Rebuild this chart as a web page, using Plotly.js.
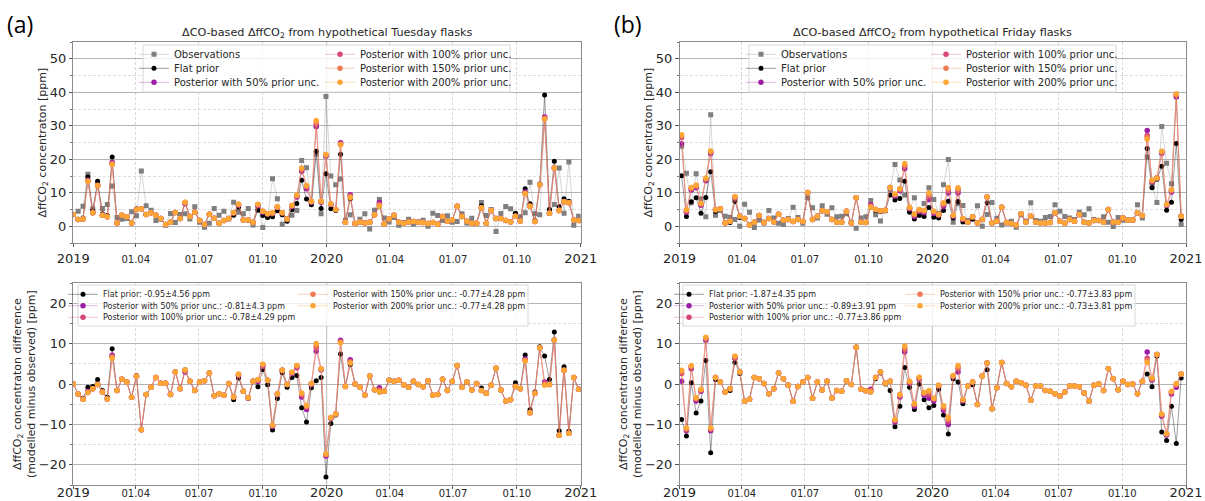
<!DOCTYPE html>
<html><head><meta charset="utf-8">
<script src="https://cdn.plot.ly/plotly-3.0.1.min.js"></script>
<style>html,body{margin:0;padding:0;background:#fff}#chart{width:1205px;height:501px}</style>
</head><body><div id="chart"></div>
<script>
// ---------- DATA ----------
const tueStart = '2019-01-01';   // weekly Tuesday flasks
const friStart = '2019-01-04';   // weekly Friday flasks

// Tuesday, top panel (ppm)
const T_obs = [3.5,4.5,6.0,15.5,5.2,12.3,5.3,6.5,12.0,2.6, 2.1,2.3,4.3,3.1,16.5,6.1,4.8,1.7,2.1,0.3, 3.8,1.1,3.5,3.7,2.2,5.8,1.2,-0.3,0.9,5.3, 3.3,4.5,2.2,7.2,4.2,3.7,5.3,0.4,5.5,-0.4, 2.8,14.2,8.2,0.6,2.3,3.3,4.7,19.6,17.5,7.3, 21.6,3.7,38.7,15.0,12.4,14.1,1.8,3.4,0.8,2.1, 3.7,-0.8,4.8,8.0,2.5,1.3,2.6,0.3,1.1,2.1, 0.7,1.3,1.8,0.0,3.9,3.2,1.7,3.1,1.2,1.4, 3.7,1.0,2.4,0.8,7.1,3.2,5.0,-1.6,3.8,5.9, 5.2,3.6,2.8,4.0,13.1,3.7,3.4,32.3,4.0,6.5, 17.4,3.9,19.2,0.3,3.0];
const T_flat = [3.5,2.0,2.5,14.7,4.6,13.4,3.7,3.2,20.7,1.0, 3.3,2.8,1.0,5.2,5.2,3.5,4.0,3.3,2.3,0.5, 1.2,4.1,2.3,7.2,2.9,4.2,1.7,0.5,3.6,2.4, 0.9,1.7,2.3,3.3,5.7,1.9,1.7,1.1,4.8,3.2, 2.6,2.8,4.6,3.4,1.5,4.9,6.8,13.7,8.1,6.4, 22.4,5.3,15.7,5.2,4.7,21.5,1.2,8.2,0.8,1.3, 1.0,1.2,3.4,6.0,0.7,2.2,3.3,1.2,0.9,1.3, 1.4,1.2,1.1,0.8,1.1,0.6,2.9,1.5,1.9,6.0, 2.9,1.5,0.9,0.9,6.1,0.9,4.7,2.3,2.3,1.7, 1.3,3.9,1.6,11.2,6.7,1.7,12.6,39.2,5.1,19.4, 5.8,8.2,7.5,1.9,1.7];
const T_p50 = [3.5,2.0,2.2,13.7,4.0,12.2,3.3,2.8,19.1,1.0, 3.3,2.8,1.0,5.0,5.2,3.5,4.0,3.3,2.3,0.5, 1.2,4.1,2.3,6.7,2.9,4.2,1.7,0.5,3.6,2.4, 0.9,1.7,2.3,4.0,6.3,1.9,1.9,1.1,6.1,4.2, 3.7,3.7,5.6,4.0,2.2,5.9,8.7,16.4,11.2,7.2, 29.7,7.2,20.9,6.5,5.0,24.9,1.2,9.4,0.8,1.3, 1.0,1.2,3.4,7.1,0.7,2.2,3.3,1.2,0.9,1.3, 1.4,1.2,1.1,0.8,1.1,0.6,2.9,1.5,1.9,6.0, 2.9,1.5,0.9,0.9,5.5,0.9,4.7,2.3,2.3,1.7, 1.3,3.0,1.6,10.2,6.0,1.4,12.4,32.6,3.9,17.4, 4.7,7.3,7.0,1.9,1.7];
const T_p100 = [3.5,2.0,2.2,13.5,4.0,12.2,3.3,2.8,18.8,1.0, 3.3,2.8,1.0,5.0,5.2,3.5,4.0,3.3,2.3,0.5, 1.2,4.1,2.3,7.0,2.9,4.2,1.7,0.5,3.6,2.4, 0.9,1.7,2.3,4.0,6.5,1.9,1.9,1.1,6.4,4.4, 3.7,3.9,5.7,4.0,2.2,6.1,9.0,16.9,11.7,7.3, 30.5,7.4,21.2,6.6,5.0,24.6,1.2,9.0,0.8,1.3, 1.0,1.2,3.4,6.6,0.7,2.2,3.3,1.2,0.9,1.3, 1.4,1.2,1.1,0.8,1.1,0.6,2.9,1.5,1.9,6.0, 2.9,1.5,0.9,0.9,5.5,0.9,4.7,2.3,2.3,1.7, 1.3,3.0,1.6,9.9,6.0,1.4,12.4,32.3,3.9,17.4, 4.7,7.3,7.0,1.9,1.7];
const T_p150 = [3.5,2.0,2.2,13.4,4.0,12.2,3.3,2.8,18.6,1.0, 3.3,2.8,1.0,5.0,5.2,3.5,4.0,3.3,2.3,0.5, 1.2,4.1,2.3,7.1,2.9,4.2,1.7,0.5,3.6,2.4, 0.9,1.7,2.3,4.0,6.6,1.9,1.9,1.1,6.5,4.5, 3.7,4.0,5.8,4.0,2.2,6.2,9.2,17.2,12.0,7.4, 31.1,7.5,21.3,6.7,5.0,24.4,1.2,8.8,0.8,1.3, 1.0,1.2,3.4,6.3,0.7,2.2,3.3,1.2,0.9,1.3, 1.4,1.2,1.1,0.8,1.1,0.6,2.9,1.5,1.9,6.0, 2.9,1.5,0.9,0.9,5.5,0.9,4.7,2.3,2.3,1.7, 1.3,3.0,1.6,9.8,6.0,1.4,12.4,32.1,3.9,17.4, 4.7,7.3,7.0,1.9,1.7];
const T_p200 = [3.5,2.0,2.2,13.4,4.0,12.2,3.3,2.8,18.4,1.0, 3.3,2.8,1.0,5.0,5.2,3.5,4.0,3.3,2.3,0.5, 1.2,4.1,2.3,7.2,2.9,4.2,1.7,0.5,3.6,2.4, 0.9,1.7,2.3,4.0,6.6,1.9,1.9,1.1,6.6,4.5, 3.7,4.0,5.8,4.0,2.2,6.2,9.3,17.4,12.2,7.4, 31.6,7.5,21.4,6.7,5.0,24.3,1.2,8.6,0.8,1.3, 1.0,1.2,3.4,6.0,0.7,2.2,3.3,1.2,0.9,1.3, 1.4,1.2,1.1,0.8,1.1,0.6,2.9,1.5,1.9,6.0, 2.9,1.5,0.9,0.9,5.5,0.9,4.7,2.3,2.3,1.7, 1.3,3.0,1.6,9.7,6.0,1.4,12.4,32.0,3.9,17.4, 4.7,7.3,7.0,1.9,1.7];

// Tuesday, bottom panel (modelled minus observed, ppm)
const T_dflat = [0,-2.5,-3.5,-0.8,-0.6,1.1,-1.6,-3.3,8.7,-1.6, 1.2,0.5,-3.3,2.1,-11.3,-2.6,-0.8,1.6,0.2,0.2, -2.6,3.0,-1.2,3.5,0.7,-1.6,0.5,0.8,2.7,-2.9, -2.4,-2.8,0.1,-3.9,1.5,-1.8,-3.6,0.7,-0.7,3.6, -0.2,-11.4,-3.6,2.8,-0.8,1.6,2.1,-5.9,-9.4,-0.9, 0.8,1.6,-23.0,-9.8,-7.7,7.4,-0.6,4.8,0.0,-0.8, -2.7,2.0,-1.4,-2.0,-1.8,0.9,0.7,0.9,-0.2,-0.8, 0.7,-0.1,-0.7,0.8,-2.8,-2.6,1.2,-1.6,0.7,4.6, -0.8,0.5,-1.5,0.1,-1.0,-2.3,-0.3,3.9,-1.5,-4.2, -3.9,0.3,-1.2,7.2,-6.4,-2.0,9.2,6.9,1.1,12.9, -11.6,4.3,-11.7,1.6,-1.3];
const T_dp50 = [0,-2.5,-3.8,-1.8,-1.2,-0.1,-2.0,-3.7,7.1,-1.6, 1.2,0.5,-3.3,1.9,-11.3,-2.6,-0.8,1.6,0.2,0.2, -2.6,3.0,-1.2,3.0,0.7,-1.6,0.5,0.8,2.7,-2.9, -2.4,-2.8,0.1,-3.2,2.1,-1.8,-3.4,0.7,0.6,4.4, 0.9,-10.5,-2.6,3.4,-0.1,2.6,4.0,-3.2,-6.3,-0.1, 8.1,3.5,-17.8,-8.5,-7.4,10.8,-0.6,6.0,0.0,-0.8, -2.7,2.0,-1.4,-0.9,-1.8,0.9,0.7,0.9,-0.2,-0.8, 0.7,-0.1,-0.7,0.8,-2.8,-2.6,1.2,-1.6,0.7,4.6, -0.8,0.5,-1.5,0.1,-1.6,-2.3,-0.3,3.9,-1.5,-4.2, -3.9,-0.6,-1.2,6.2,-7.1,-2.3,9.0,0.5,-0.1,10.9, -12.7,3.4,-12.2,1.6,-1.3];
const T_dp100 = [0,-2.5,-3.8,-2.0,-1.2,-0.1,-2.0,-3.7,6.8,-1.6, 1.2,0.5,-3.3,1.9,-11.3,-2.6,-0.8,1.6,0.2,0.2, -2.6,3.0,-1.2,3.3,0.7,-1.6,0.5,0.8,2.7,-2.9, -2.4,-2.8,0.1,-3.2,2.3,-1.8,-3.4,0.7,0.9,4.7, 0.9,-10.3,-2.5,3.4,-0.1,2.8,4.3,-2.7,-5.8,0.0, 9.0,3.7,-17.5,-8.4,-7.4,10.5,-0.6,5.6,0.0,-0.8, -2.7,2.0,-1.4,-1.4,-1.8,0.9,0.7,0.9,-0.2,-0.8, 0.7,-0.1,-0.7,0.8,-2.8,-2.6,1.2,-1.6,0.7,4.6, -0.8,0.5,-1.5,0.1,-1.6,-2.3,-0.3,3.9,-1.5,-4.2, -3.9,-0.6,-1.2,5.9,-7.1,-2.3,9.0,0.1,-0.1,10.9, -12.7,3.4,-12.2,1.6,-1.3];
const T_dp150 = [0,-2.5,-3.8,-2.1,-1.2,-0.1,-2.0,-3.7,6.6,-1.6, 1.2,0.5,-3.3,1.9,-11.3,-2.6,-0.8,1.6,0.2,0.2, -2.6,3.0,-1.2,3.4,0.7,-1.6,0.5,0.8,2.7,-2.9, -2.4,-2.8,0.1,-3.2,2.4,-1.8,-3.4,0.7,1.0,4.8, 0.9,-10.2,-2.4,3.4,-0.1,2.9,4.5,-2.4,-5.5,0.1, 9.6,3.8,-17.4,-8.3,-7.4,10.3,-0.6,5.4,0.0,-0.8, -2.7,2.0,-1.4,-1.7,-1.8,0.9,0.7,0.9,-0.2,-0.8, 0.7,-0.1,-0.7,0.8,-2.8,-2.6,1.2,-1.6,0.7,4.6, -0.8,0.5,-1.5,0.1,-1.6,-2.3,-0.3,3.9,-1.5,-4.2, -3.9,-0.6,-1.2,5.8,-7.1,-2.3,9.0,-0.1,-0.1,10.9, -12.7,3.4,-12.2,1.6,-1.3];
const T_dp200 = [0,-2.5,-3.8,-2.1,-1.2,-0.1,-2.0,-3.7,6.4,-1.6, 1.2,0.5,-3.3,1.9,-11.3,-2.6,-0.8,1.6,0.2,0.2, -2.6,3.0,-1.2,3.5,0.7,-1.6,0.5,0.8,2.7,-2.9, -2.4,-2.8,0.1,-3.2,2.4,-1.8,-3.4,0.7,1.1,4.9, 0.9,-10.2,-2.4,3.4,-0.1,2.9,4.6,-2.2,-5.3,0.1, 10.0,3.8,-17.3,-8.3,-7.4,10.2,-0.6,5.2,0.0,-0.8, -2.7,2.0,-1.4,-2.0,-1.8,0.9,0.7,0.9,-0.2,-0.8, 0.7,-0.1,-0.7,0.8,-2.8,-2.6,1.2,-1.6,0.7,4.6, -0.8,0.5,-1.5,0.1,-1.6,-2.3,-0.3,3.9,-1.5,-4.2, -3.9,-0.6,-1.2,5.7,-7.1,-2.3,9.0,-0.3,-0.1,10.9, -12.7,3.4,-12.2,1.6,-1.3];

// Friday, top panel (ppm)
const F_obs = [23.9,15.8,7.0,15.7,8.1,2.8,33.3,3.3,4.7,3.0, 2.7,2.0,0.0,6.6,4.2,-0.4,1.9,1.0,4.7,2.5, 0.9,0.5,2.3,5.7,2.6,0.9,8.5,5.5,2.5,6.1, 3.6,5.5,2.8,3.0,3.7,1.1,-0.6,2.5,2.8,7.7, 3.4,1.6,4.6,10.9,18.4,13.8,9.3,5.0,8.5,3.3, 6.8,11.5,8.0,3.8,12.4,19.9,1.2,6.9,6.2,1.7, 2.3,6.1,0.0,3.5,7.1,2.4,0.4,1.0,1.5,-0.3, 3.4,1.5,7.0,1.7,1.5,2.6,2.9,6.4,4.5,2.9, 2.5,2.0,4.2,3.4,5.2,2.0,1.7,2.8,1.2,-0.1, 2.6,1.8,1.9,1.9,6.4,2.5,20.7,12.2,7.1,29.8, 18.8,12.7,39.4,0.5];
const F_flat = [15.1,2.9,7.3,8.5,3.9,8.6,16.3,4.4,5.2,1.0, 1.1,7.4,2.6,2.3,0.4,1.2,3.2,1.1,2.3,1.3, 3.6,1.8,2.0,1.4,2.0,1.4,10.1,2.0,3.0,4.6, 4.3,2.0,1.2,1.2,4.5,1.0,8.5,1.2,1.1,5.7, 4.7,4.3,4.6,9.3,7.8,8.3,13.4,4.2,2.2,3.3, 2.9,5.6,2.7,2.5,4.7,7.5,2.5,7.4,1.3,1.2, 2.1,1.0,2.0,7.0,1.0,1.5,5.7,1.1,0.8,0.4, 3.7,1.2,3.0,1.2,1.0,1.0,1.1,4.0,1.5,0.9, 2.0,1.5,3.5,1.2,1.0,1.7,1.7,1.2,5.0,1.2, 1.2,2.5,1.8,1.9,4.0,3.2,23.2,11.5,14.0,17.9, 4.8,7.2,24.7,2.0];
const F_p50 = [24.6,4.2,10.8,11.5,6.3,13.6,21.7,4.9,5.2,1.0, 1.5,8.4,3.0,2.3,0.4,1.2,3.2,1.1,2.3,1.3, 3.6,1.8,2.0,1.4,2.0,1.4,10.1,2.0,3.0,4.6, 4.3,2.0,1.2,1.2,4.5,1.0,8.5,1.2,1.1,6.4, 5.0,4.6,4.8,11.6,9.0,10.6,17.2,5.2,2.9,4.4, 4.0,8.0,3.8,3.3,5.9,9.9,3.0,9.9,2.0,1.2, 2.8,1.0,2.0,8.7,1.0,1.5,5.7,1.1,0.8,0.4, 3.7,1.2,3.0,1.2,1.0,1.0,1.1,4.0,1.5,0.9, 2.0,1.5,3.5,1.2,1.0,1.7,1.7,1.2,5.0,1.2, 1.2,2.5,1.8,1.9,4.0,3.2,28.6,13.2,14.4,21.8, 6.2,10.2,38.6,3.0];
const F_p100 = [26.5,4.5,11.2,11.9,6.6,14.0,22.1,4.9,5.2,1.0, 1.5,8.6,3.0,2.3,0.4,1.2,3.2,1.1,2.3,1.3, 3.6,1.8,2.0,1.4,2.0,1.4,10.1,2.0,3.0,4.6, 4.3,2.0,1.2,1.2,4.5,1.0,8.5,1.2,1.1,6.1, 5.0,4.6,4.8,11.6,9.3,10.9,17.9,5.4,3.3,4.7, 4.4,8.9,4.2,3.4,6.4,10.7,3.1,10.7,2.2,1.2, 2.8,1.0,2.0,8.7,1.0,1.5,5.7,1.1,0.8,0.4, 3.7,1.2,3.0,1.2,1.0,1.0,1.1,4.0,1.5,0.9, 2.0,1.5,3.5,1.2,1.0,1.7,1.7,1.2,5.0,1.2, 1.2,2.5,1.8,1.9,4.0,3.2,27.1,13.4,14.4,22.1, 6.4,10.6,39.1,3.0];
const F_p150 = [27.0,4.7,11.4,12.1,6.7,14.2,22.3,4.9,5.2,1.0, 1.5,8.8,3.0,2.3,0.4,1.2,3.2,1.1,2.3,1.3, 3.6,1.8,2.0,1.4,2.0,1.4,10.1,2.0,3.0,4.6, 4.3,2.0,1.2,1.2,4.5,1.0,8.5,1.2,1.1,5.9, 5.0,4.6,4.8,11.6,9.5,11.1,18.3,5.6,3.5,4.9, 4.6,9.5,4.4,3.5,6.7,11.2,3.2,11.1,2.3,1.2, 2.8,1.0,2.0,8.7,1.0,1.5,5.7,1.1,0.8,0.4, 3.7,1.2,3.0,1.2,1.0,1.0,1.1,4.0,1.5,0.9, 2.0,1.5,3.5,1.2,1.0,1.7,1.7,1.2,5.0,1.2, 1.2,2.5,1.8,1.9,4.0,3.2,26.5,13.6,14.4,22.3, 6.5,10.8,39.3,3.0];
const F_p200 = [27.3,4.9,11.6,12.3,6.8,14.4,22.5,4.9,5.2,1.0, 1.5,8.9,3.0,2.3,0.4,1.2,3.2,1.1,2.3,1.3, 3.6,1.8,2.0,1.4,2.0,1.4,10.1,2.0,3.0,4.6, 4.3,2.0,1.2,1.2,4.5,1.0,8.5,1.2,1.1,5.7, 5.0,4.6,4.8,11.6,9.6,11.2,18.7,5.7,3.7,5.0, 4.7,9.9,4.5,3.5,7.0,11.6,3.3,11.5,2.3,1.2, 2.8,1.0,2.0,8.7,1.0,1.5,5.7,1.1,0.8,0.4, 3.7,1.2,3.0,1.2,1.0,1.0,1.1,4.0,1.5,0.9, 2.0,1.5,3.5,1.2,1.0,1.7,1.7,1.2,5.0,1.2, 1.2,2.5,1.8,1.9,4.0,3.2,26.0,13.7,14.4,22.4, 6.5,10.9,39.5,3.0];

// Friday, bottom panel (modelled minus observed, ppm)
const F_dflat = [-8.8,-12.9,0.3,-7.2,-4.2,5.8,-17.0,1.1,0.5,-2.0, -1.6,5.4,2.6,-4.3,-3.8,1.6,1.3,0.1,-2.4,-1.2, 2.7,1.3,-0.3,-4.3,-0.6,0.5,1.6,-3.5,0.5,-1.5, 0.7,-3.5,-1.6,-1.8,0.8,-0.1,9.1,-1.3,-1.7,-2.0, 1.3,2.7,0.0,-1.6,-10.6,-5.5,4.1,-0.8,-6.3,0.0, -3.9,-5.9,-5.3,-1.3,-7.7,-12.4,1.3,0.5,-4.9,-0.5, -0.2,-5.1,2.0,3.5,-6.1,-0.9,5.3,0.1,-0.7,0.7, 0.3,-0.3,-4.0,-0.5,-0.5,-1.6,-1.8,-2.4,-3.0,-2.0, -0.5,-0.5,-0.7,-2.2,-4.2,-0.3,0.0,-1.6,3.8,1.3, -1.4,0.7,-0.1,0.0,-2.4,0.7,2.5,-0.7,6.9,-11.9, -14.0,-5.5,-14.7,1.5];
const F_dp50 = [0.7,-11.6,3.8,-4.2,-1.8,10.8,-11.6,1.6,0.5,-2.0, -1.2,6.4,3.0,-4.3,-3.8,1.6,1.3,0.1,-2.4,-1.2, 2.7,1.3,-0.3,-4.3,-0.6,0.5,1.6,-3.5,0.5,-1.5, 0.7,-3.5,-1.6,-1.8,0.8,-0.1,9.1,-1.3,-1.7,-1.3, 1.6,3.0,0.2,0.7,-9.4,-3.2,7.9,0.2,-5.6,1.1, -2.8,-3.5,-4.2,-0.5,-6.5,-10.0,1.8,3.0,-4.2,-0.5, 0.5,-5.1,2.0,5.2,-6.1,-0.9,5.3,0.1,-0.7,0.7, 0.3,-0.3,-4.0,-0.5,-0.5,-1.6,-1.8,-2.4,-3.0,-2.0, -0.5,-0.5,-0.7,-2.2,-4.2,-0.3,0.0,-1.6,3.8,1.3, -1.4,0.7,-0.1,0.0,-2.4,0.7,7.9,1.0,7.3,-8.0, -12.6,-2.5,-0.8,2.5];
const F_dp100 = [2.6,-11.3,4.2,-3.8,-1.5,11.2,-11.2,1.6,0.5,-2.0, -1.2,6.6,3.0,-4.3,-3.8,1.6,1.3,0.1,-2.4,-1.2, 2.7,1.3,-0.3,-4.3,-0.6,0.5,1.6,-3.5,0.5,-1.5, 0.7,-3.5,-1.6,-1.8,0.8,-0.1,9.1,-1.3,-1.7,-1.6, 1.6,3.0,0.2,0.7,-9.1,-2.9,8.6,0.4,-5.2,1.4, -2.4,-2.6,-3.8,-0.4,-6.0,-9.2,1.9,3.8,-4.0,-0.5, 0.5,-5.1,2.0,5.2,-6.1,-0.9,5.3,0.1,-0.7,0.7, 0.3,-0.3,-4.0,-0.5,-0.5,-1.6,-1.8,-2.4,-3.0,-2.0, -0.5,-0.5,-0.7,-2.2,-4.2,-0.3,0.0,-1.6,3.8,1.3, -1.4,0.7,-0.1,0.0,-2.4,0.7,6.4,1.2,7.3,-7.7, -12.4,-2.1,-0.3,2.5];
const F_dp150 = [3.1,-11.1,4.4,-3.6,-1.4,11.4,-11.0,1.6,0.5,-2.0, -1.2,6.8,3.0,-4.3,-3.8,1.6,1.3,0.1,-2.4,-1.2, 2.7,1.3,-0.3,-4.3,-0.6,0.5,1.6,-3.5,0.5,-1.5, 0.7,-3.5,-1.6,-1.8,0.8,-0.1,9.1,-1.3,-1.7,-1.8, 1.6,3.0,0.2,0.7,-8.9,-2.7,9.0,0.6,-5.0,1.6, -2.2,-2.0,-3.6,-0.3,-5.7,-8.7,2.0,4.2,-3.9,-0.5, 0.5,-5.1,2.0,5.2,-6.1,-0.9,5.3,0.1,-0.7,0.7, 0.3,-0.3,-4.0,-0.5,-0.5,-1.6,-1.8,-2.4,-3.0,-2.0, -0.5,-0.5,-0.7,-2.2,-4.2,-0.3,0.0,-1.6,3.8,1.3, -1.4,0.7,-0.1,0.0,-2.4,0.7,5.8,1.4,7.3,-7.5, -12.3,-1.9,-0.1,2.5];
const F_dp200 = [3.4,-10.9,4.6,-3.4,-1.3,11.6,-10.8,1.6,0.5,-2.0, -1.2,6.9,3.0,-4.3,-3.8,1.6,1.3,0.1,-2.4,-1.2, 2.7,1.3,-0.3,-4.3,-0.6,0.5,1.6,-3.5,0.5,-1.5, 0.7,-3.5,-1.6,-1.8,0.8,-0.1,9.1,-1.3,-1.7,-2.0, 1.6,3.0,0.2,0.7,-8.8,-2.6,9.4,0.7,-4.8,1.7, -2.1,-1.6,-3.5,-0.3,-5.4,-8.3,2.1,4.6,-3.9,-0.5, 0.5,-5.1,2.0,5.2,-6.1,-0.9,5.3,0.1,-0.7,0.7, 0.3,-0.3,-4.0,-0.5,-0.5,-1.6,-1.8,-2.4,-3.0,-2.0, -0.5,-0.5,-0.7,-2.2,-4.2,-0.3,0.0,-1.6,3.8,1.3, -1.4,0.7,-0.1,0.0,-2.4,0.7,5.3,1.5,7.3,-7.4, -12.3,-1.8,0.1,2.5];

// Labels
const topNames = ['Observations','Flat prior','Posterior with 50% prior unc.','Posterior with 100% prior unc.','Posterior with 150% prior unc.','Posterior with 200% prior unc.'];
const botNamesTue = ['Flat prior: -0.95±4.56 ppm','Posterior with 50% prior unc.: -0.81±4.3 ppm','Posterior with 100% prior unc.: -0.78±4.29 ppm','Posterior with 150% prior unc.: -0.77±4.28 ppm','Posterior with 200% prior unc.: -0.77±4.28 ppm'];
const botNamesFri = ['Flat prior: -1.87±4.35 ppm','Posterior with 50% prior unc.: -0.89±3.91 ppm','Posterior with 100% prior unc.: -0.77±3.86 ppm','Posterior with 150% prior unc.: -0.77±3.83 ppm','Posterior with 200% prior unc.: -0.73±3.81 ppm'];
const titleTue = 'ΔCO-based ΔffCO<sub>2</sub> from hypothetical Tuesday flasks';
const titleFri = 'ΔCO-based ΔffCO<sub>2</sub> from hypothetical Friday flasks';
const yTitleTop = 'ΔffCO<sub>2</sub> concentraton [ppm]';
const yTitleBot = 'ΔffCO<sub>2</sub> concentraton difference<br>(modelled minus observed) [ppm]';
const xTickVals = ['2019-01-01','2019-04-01','2019-07-01','2019-10-01','2020-01-01','2020-04-01','2020-07-01','2020-10-01','2021-01-01'];
const xTickText = ['2019','01.04','01.07','01.10','2020','01.04','01.07','01.10','2021'];
const yTopTicks = [0,10,20,30,40,50];
const yBotTicks = [-20,-10,0,10,20];
const yBotTickText = ['−20','−10','0','10','20'];
const panelLabels = ['(a)','(b)'];

// ---------- BUILD ----------
function weekly(start, n){
  const d0 = Date.parse(start + 'T00:00:00Z'); const out = [];
  for (let k = 0; k < n; k++) out.push(new Date(d0 + k*7*86400000).toISOString().slice(0,10));
  return out;
}
const tueDates = weekly(tueStart, T_obs.length);
const friDates = weekly(friStart, F_obs.length);

const W = 1205, H = 501;
const px = v => v / W, py = v => (H - v) / H;
const FONT = 'DejaVu Sans';

const styles = {
  obs:  {marker:{symbol:'square', size:5, color:'#7f7f7f'}, line:{color:'rgba(128,128,128,0.45)', width:0.7}},
  flat: {marker:{symbol:'circle', size:5, color:'#000000'}, line:{color:'rgba(0,0,0,0.55)', width:0.7}},
  p50:  {marker:{symbol:'circle', size:5.5, color:'#9c1ea6'}, line:{color:'rgba(156,30,166,0.45)', width:0.7}},
  p100: {marker:{symbol:'circle', size:5.5, color:'#d5467b'}, line:{color:'rgba(213,70,123,0.45)', width:0.7}},
  p150: {marker:{symbol:'circle', size:5.5, color:'#ef7a53'}, line:{color:'rgba(239,122,83,0.5)', width:0.7}},
  p200: {marker:{symbol:'circle', size:5.5, color:'#fca636'}, line:{color:'rgba(252,166,54,0.5)', width:0.7}}
};

const xL = [73.3, 580.7], xR = [679.5, 1186];
const yT = [42, 243], yB = [283, 485];

const panels = [
  {xa:'x',  ya:'y',  xd:xL, yd:yT, dates:tueDates, series:[T_obs,T_flat,T_p50,T_p100,T_p150,T_p200], st:['obs','flat','p50','p100','p150','p200'], names:topNames,
   rows:[54.3,68.3,82.3], cols:[174,360], fs:10, box:[143,510,45,92]},
  {xa:'x2', ya:'y2', xd:xL, yd:yB, dates:tueDates, series:[T_dflat,T_dp50,T_dp100,T_dp150,T_dp200], st:['flat','p50','p100','p150','p200'], names:botNamesTue,
   rows:[294.3,305.7,317.3], cols:[103,333], fs:8, box:[78,528,285,326]},
  {xa:'x3', ya:'y3', xd:xR, yd:yT, dates:friDates, series:[F_obs,F_flat,F_p50,F_p100,F_p150,F_p200], st:['obs','flat','p50','p100','p150','p200'], names:topNames,
   rows:[54.3,68.3,82.3], cols:[781,966], fs:10, box:[749,1116,45,92]},
  {xa:'x4', ya:'y4', xd:xR, yd:yB, dates:friDates, series:[F_dflat,F_dp50,F_dp100,F_dp150,F_dp200], st:['flat','p50','p100','p150','p200'], names:botNamesFri,
   rows:[294.3,305.7,317.3], cols:[709,940], fs:8, box:[683,1135,285,326]}
];

const traces = [];
const layout = {
  width: W, height: H, margin:{l:0,r:0,t:0,b:0},
  paper_bgcolor:'#ffffff', plot_bgcolor:'#ffffff',
  font:{family:FONT, color:'#262626'},
  showlegend:true, shapes:[], annotations:[]
};

let legendN = 0;
panels.forEach((p, pi) => {
  const isTop = (pi % 2 === 0);
  const xk = 'xaxis' + (pi === 0 ? '' : (pi+1));
  const yk = 'yaxis' + (pi === 0 ? '' : (pi+1));
  layout[xk] = {
    domain:[px(p.xd[0]), px(p.xd[1])], anchor:p.ya, type:'date',
    range:['2019-01-01','2021-01-01'], tickmode:'array', tickvals:xTickVals,
    ticktext:xTickText.map(t => t.length === 4 ? t : '<span style="font-size:10px">' + t + '</span>'),
    tickfont:{size:13, family:FONT, color:'#262626'}, ticks:'outside', ticklen:3, tickcolor:'#555',
    ticklabelstandoff: isTop ? 0 : -8,
    showgrid:true, gridcolor:'#cfcfcf', gridwidth:0.8, griddash:'3px,2px',
    showline:true, linecolor:'#8c8c8c', linewidth:1, mirror:true, zeroline:false, fixedrange:true
  };
  layout[yk] = {
    domain:[py(p.yd[1]), py(p.yd[0])], anchor:p.xa,
    range: isTop ? [-5,55] : [-25,25], tickmode:'array',
    tickvals: isTop ? yTopTicks : yBotTicks, ticktext: isTop ? yTopTicks.map(String) : yBotTickText,
    tickfont:{size:13, family:FONT, color:'#262626'}, ticks:'outside', ticklen:3.5, tickcolor:'#555',
    showgrid:true, gridcolor:'#b4b4b4', gridwidth:1,
    minor:{tickmode:'linear', tick0:-25, dtick:5, showgrid:true, gridcolor:'#d6d6d6', griddash:'3px,2px', gridwidth:0.8, ticks:'outside', ticklen:2, tickcolor:'#777'},
    showline:true, linecolor:'#8c8c8c', linewidth:1, mirror:true, zeroline:false, fixedrange:true
  };
  // solid year gridline at 2020
  layout.shapes.push({type:'line', xref:p.xa, yref:'paper', x0:'2020-01-01', x1:'2020-01-01', y0:py(p.yd[1]), y1:py(p.yd[0]),
    line:{color:'#b4b4b4', width:1}, layer:'below'});
  // legend frame
  layout.shapes.push({type:'rect', xref:'paper', yref:'paper', x0:px(p.box[0]), x1:px(p.box[1]), y0:py(p.box[3]), y1:py(p.box[2]),
    fillcolor:'rgba(255,255,255,0.8)', line:{color:'#d9d9d9', width:1}, layer:'above'});

  p.series.forEach((s, si) => {
    legendN++;
    const lname = legendN === 1 ? 'legend' : 'legend' + legendN;
    const col = si < 3 ? 0 : 1, row = si < 3 ? si : si - 3;
    const sty = styles[p.st[si]];
    traces.push({
      type:'scatter', mode:'lines+markers', x:p.dates, y:s, name:p.names[si],
      xaxis:p.xa, yaxis:p.ya, legend:lname,
      marker:Object.assign({}, sty.marker, {line:{width:0}}), line:sty.line, hoverinfo:'skip'
    });
    layout[lname] = {
      x:px(p.cols[col] - 40), y:py(p.rows[row]), xanchor:'left', yanchor:'middle',
      bgcolor:'rgba(0,0,0,0)', borderwidth:0, orientation:'v', itemwidth:30,
      font:{family:FONT, size:p.fs, color:'#262626'}
    };
  });
});

// titles and labels
const titleFont = {family:FONT, size:11.2, color:'#262626'};
const axFont = {family:FONT, size:11, color:'#262626'};
layout.annotations.push(
  {text:titleTue, xref:'paper', yref:'paper', x:px((xL[0]+xL[1])/2), y:py(33), xanchor:'center', yanchor:'middle', showarrow:false, font:titleFont},
  {text:titleFri, xref:'paper', yref:'paper', x:px((xR[0]+xR[1])/2), y:py(33), xanchor:'center', yanchor:'middle', showarrow:false, font:titleFont},
  {text:panelLabels[0], xref:'paper', yref:'paper', x:px(20), y:py(24), xanchor:'center', yanchor:'middle', showarrow:false, font:{family:'Open Sans', size:23, color:'#000'}},
  {text:panelLabels[1], xref:'paper', yref:'paper', x:px(628), y:py(24), xanchor:'center', yanchor:'middle', showarrow:false, font:{family:'Open Sans', size:23, color:'#000'}},
  {text:yTitleTop, xref:'paper', yref:'paper', x:px(43), y:py((yT[0]+yT[1])/2), xanchor:'center', yanchor:'middle', textangle:-90, showarrow:false, font:axFont},
  {text:yTitleTop, xref:'paper', yref:'paper', x:px(649), y:py((yT[0]+yT[1])/2), xanchor:'center', yanchor:'middle', textangle:-90, showarrow:false, font:axFont},
  {text:yTitleBot, xref:'paper', yref:'paper', x:px(24), y:py((yB[0]+yB[1])/2), xanchor:'center', yanchor:'middle', textangle:-90, showarrow:false, font:axFont},
  {text:yTitleBot, xref:'paper', yref:'paper', x:px(630), y:py((yB[0]+yB[1])/2), xanchor:'center', yanchor:'middle', textangle:-90, showarrow:false, font:axFont}
);

Plotly.newPlot('chart', traces, layout, {displayModeBar:false, staticPlot:true});
</script>
</body></html>
